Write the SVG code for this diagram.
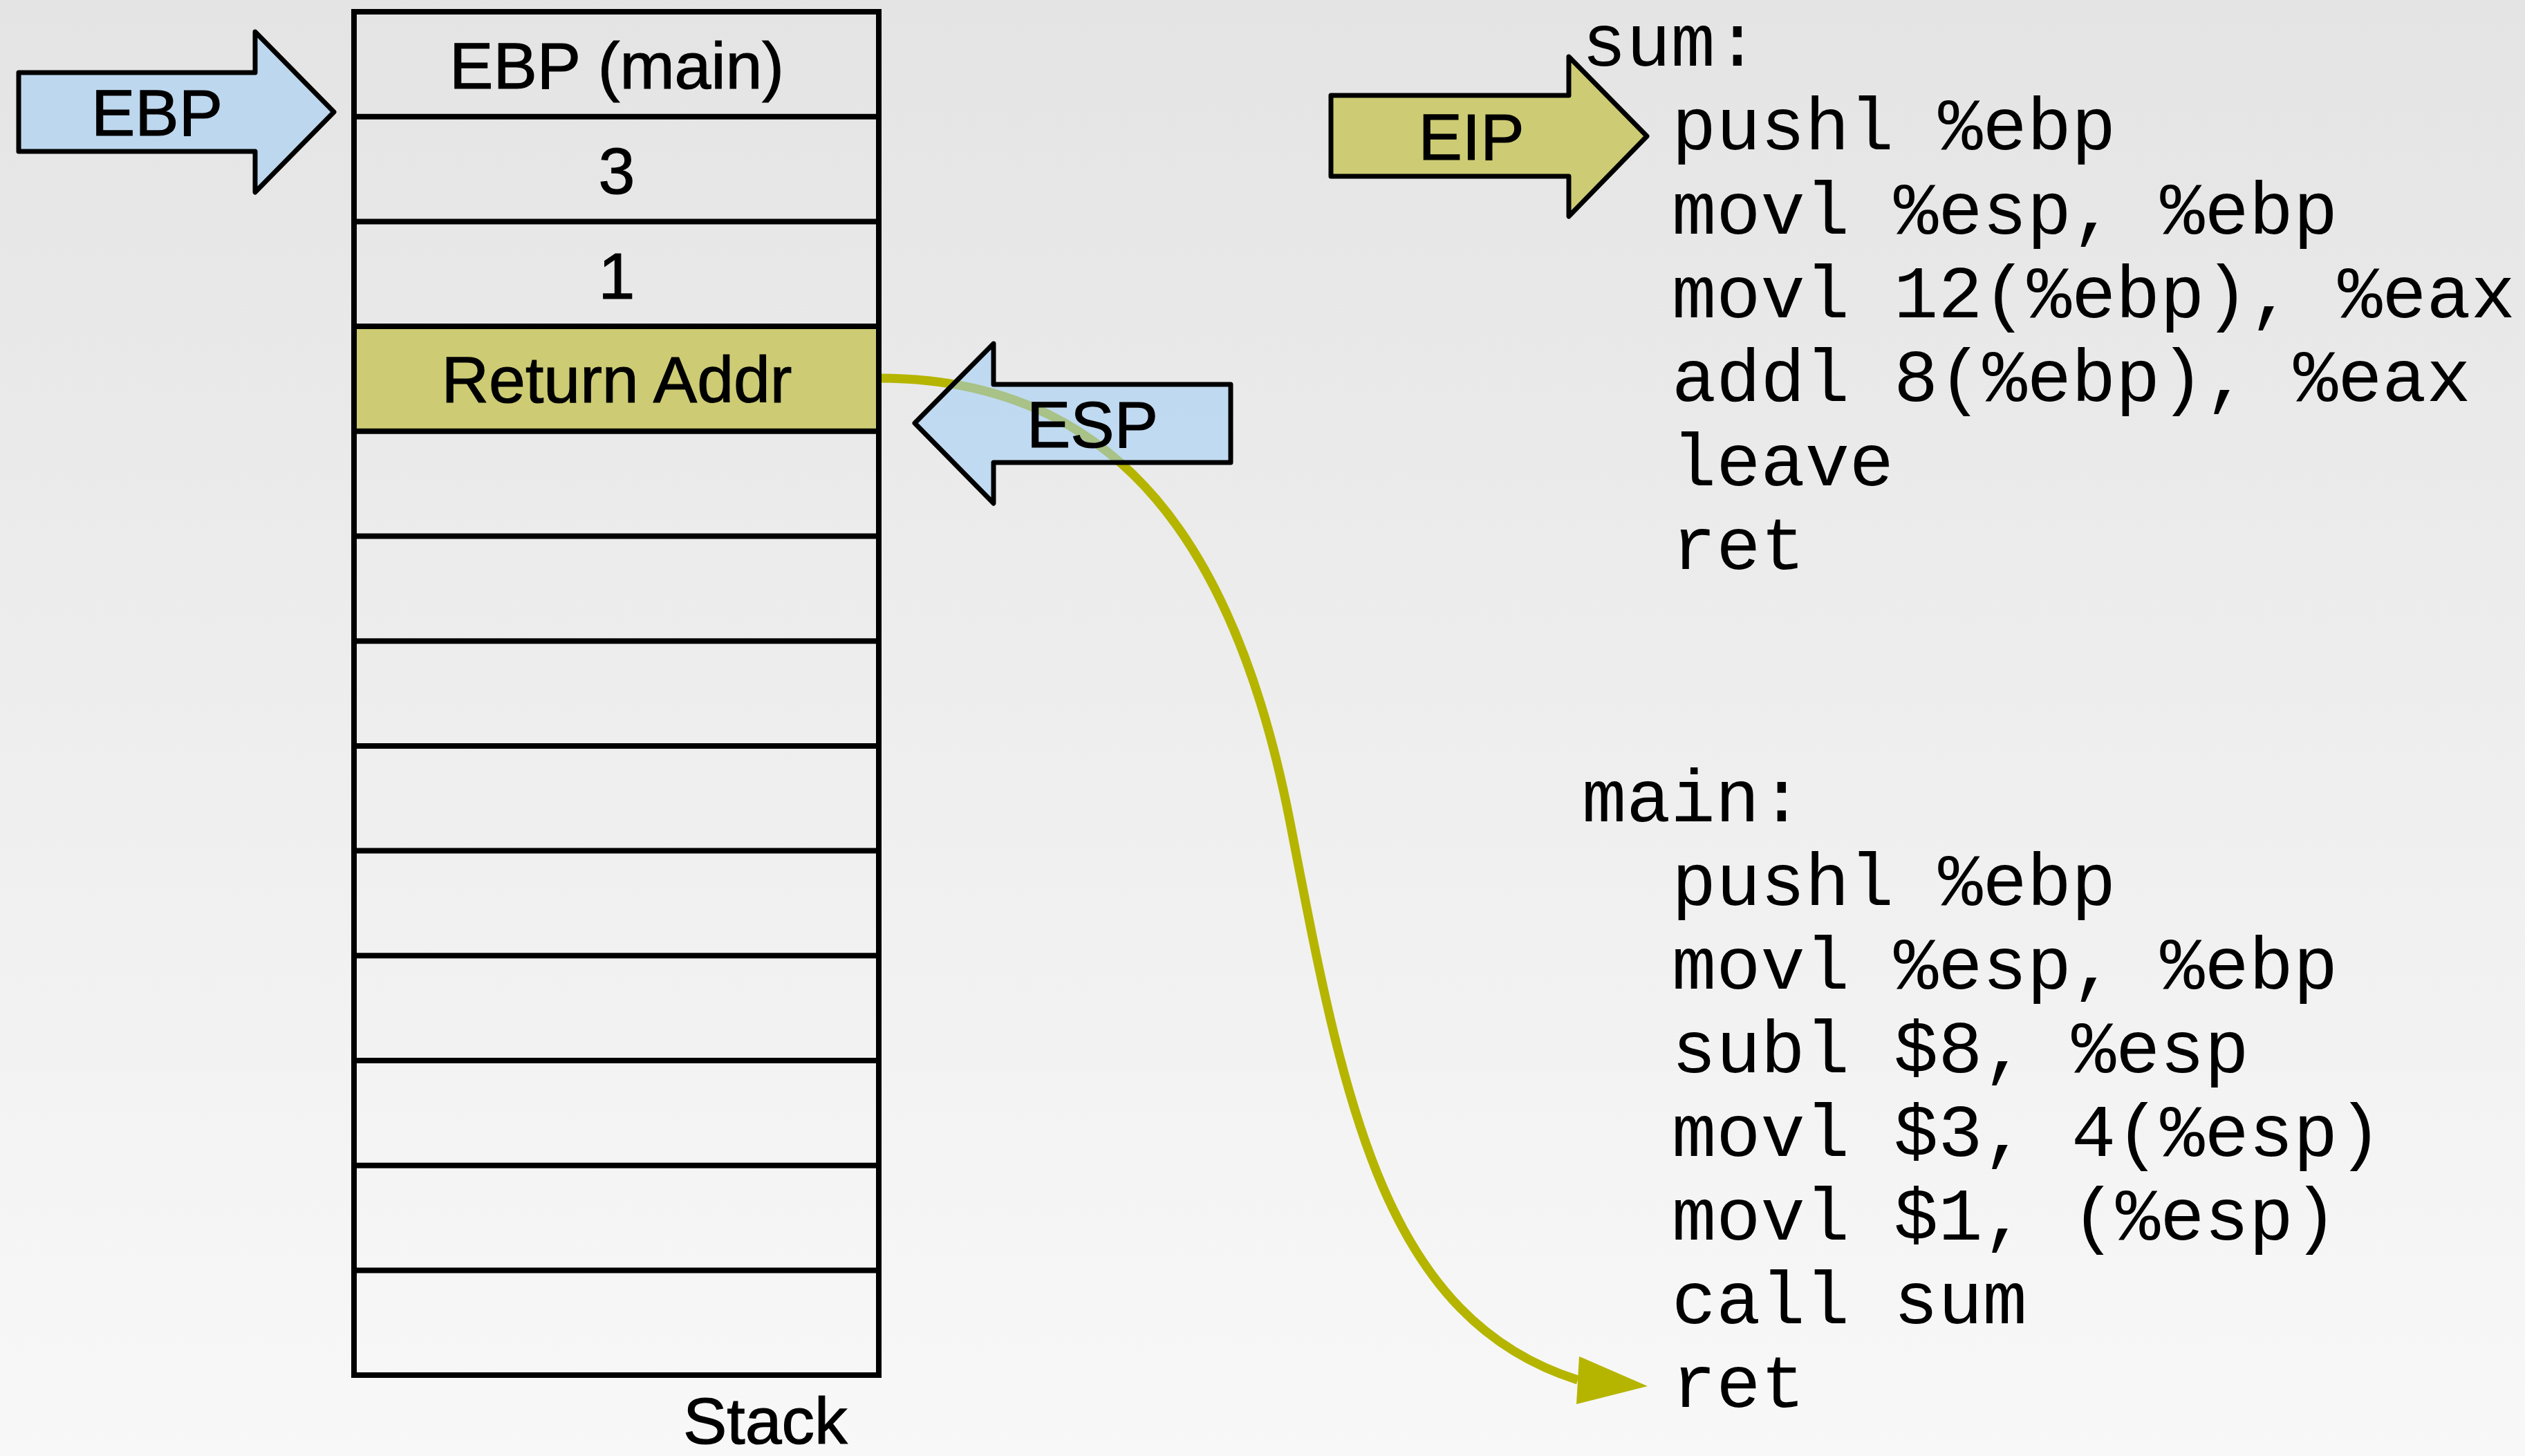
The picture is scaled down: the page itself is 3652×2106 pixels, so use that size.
<svg xmlns="http://www.w3.org/2000/svg" width="3652" height="2106" viewBox="0 0 3652 2106">
<defs>
<linearGradient id="bgGrad" x1="0" y1="0" x2="0" y2="1">
<stop offset="0" stop-color="#e4e4e4"/>
<stop offset="1" stop-color="#f8f8f8"/>
</linearGradient>
</defs>
<style>
.cell{fill:none;stroke:#000;stroke-width:8}
.sep{stroke:#000;stroke-width:8}
.lbl{font-family:"Liberation Sans",Arial,sans-serif;font-size:95px;fill:#000;stroke:#000;stroke-width:1.2;text-anchor:middle}
.ptr{font-family:"Liberation Sans",Arial,sans-serif;font-size:95px;fill:#000;stroke:#000;stroke-width:1.2;text-anchor:middle}
.code{font-family:"Liberation Mono","Courier New",monospace;font-size:107px;fill:#000}
.blue{fill:#bdd7ee;stroke:#000;stroke-width:7;stroke-linejoin:round}
.olive{fill:#cdcc74;stroke:#000;stroke-width:7;stroke-linejoin:round}
.flow{fill:none;stroke:#b5b500;stroke-width:13}
</style>
<rect id="background" x="0" y="0" width="3652" height="2106" fill="url(#bgGrad)"/>

<g id="connectors">
<path class="flow" d="M1272,547 C1622,547 1790,798 1866,1190 C1942,1582 1997,1906 2282,1996"/>
<polygon points="2383,2005 2284,1962 2280,2031" fill="#b5b500"/>
</g>

<g id="stack">
<rect x="512" y="472" width="759" height="151.7" fill="#cdcc74"/>
<rect class="cell" x="512" y="17" width="759" height="1972"/>
<line class="sep" x1="512" y1="168.7" x2="1271" y2="168.7"/>
<line class="sep" x1="512" y1="320.4" x2="1271" y2="320.4"/>
<line class="sep" x1="512" y1="472.1" x2="1271" y2="472.1"/>
<line class="sep" x1="512" y1="623.8" x2="1271" y2="623.8"/>
<line class="sep" x1="512" y1="775.5" x2="1271" y2="775.5"/>
<line class="sep" x1="512" y1="927.2" x2="1271" y2="927.2"/>
<line class="sep" x1="512" y1="1078.9" x2="1271" y2="1078.9"/>
<line class="sep" x1="512" y1="1230.6" x2="1271" y2="1230.6"/>
<line class="sep" x1="512" y1="1382.3" x2="1271" y2="1382.3"/>
<line class="sep" x1="512" y1="1534" x2="1271" y2="1534"/>
<line class="sep" x1="512" y1="1685.7" x2="1271" y2="1685.7"/>
<line class="sep" x1="512" y1="1837.4" x2="1271" y2="1837.4"/>
<text class="lbl" x="892" y="128">EBP (main)</text>
<text class="lbl" x="892" y="280">3</text>
<text class="lbl" x="892" y="432">1</text>
<text class="lbl" x="892" y="582">Return Addr</text>
<text x="988" y="2088" font-family="Liberation Sans, Arial, sans-serif" font-size="95" fill="#000" stroke="#000" stroke-width="1.2">Stack</text>
</g>

<g id="ebp-pointer">
<polygon class="blue" points="27,105 369,105 369,46 483,162 369,278 369,219 27,219"/>
<text class="ptr" x="227" y="196">EBP</text>
</g>

<g id="esp-pointer">
<polygon points="1780,556 1437,556 1437,497 1323,612 1437,728 1437,669 1780,669" fill="rgb(157,204,246)" fill-opacity="0.55" stroke="#000" stroke-width="7" stroke-linejoin="round"/>
<text class="ptr" x="1580" y="647">ESP</text>
</g>

<g id="eip-pointer">
<polygon class="olive" points="1925,138 2269,138 2269,82 2382,197 2269,313 2269,255 1925,255"/>
<text class="ptr" x="2128" y="231">EIP</text>
</g>

<g id="code-sum">
<text class="code" x="2288" y="95">sum:</text>
<text class="code" x="2418" y="216">pushl %ebp</text>
<text class="code" x="2418" y="337.5">movl %esp, %ebp</text>
<text class="code" x="2418" y="459">movl 12(%ebp), %eax</text>
<text class="code" x="2418" y="580">addl 8(%ebp), %eax</text>
<text class="code" x="2418" y="701.5">leave</text>
<text class="code" x="2418" y="822.5">ret</text>
</g>

<g id="code-main">
<text class="code" x="2288" y="1188">main:</text>
<text class="code" x="2418" y="1309">pushl %ebp</text>
<text class="code" x="2418" y="1430">movl %esp, %ebp</text>
<text class="code" x="2418" y="1551">subl $8, %esp</text>
<text class="code" x="2418" y="1672">movl $3, 4(%esp)</text>
<text class="code" x="2418" y="1793">movl $1, (%esp)</text>
<text class="code" x="2418" y="1914">call sum</text>
<text class="code" x="2418" y="2035">ret</text>
</g>
</svg>
